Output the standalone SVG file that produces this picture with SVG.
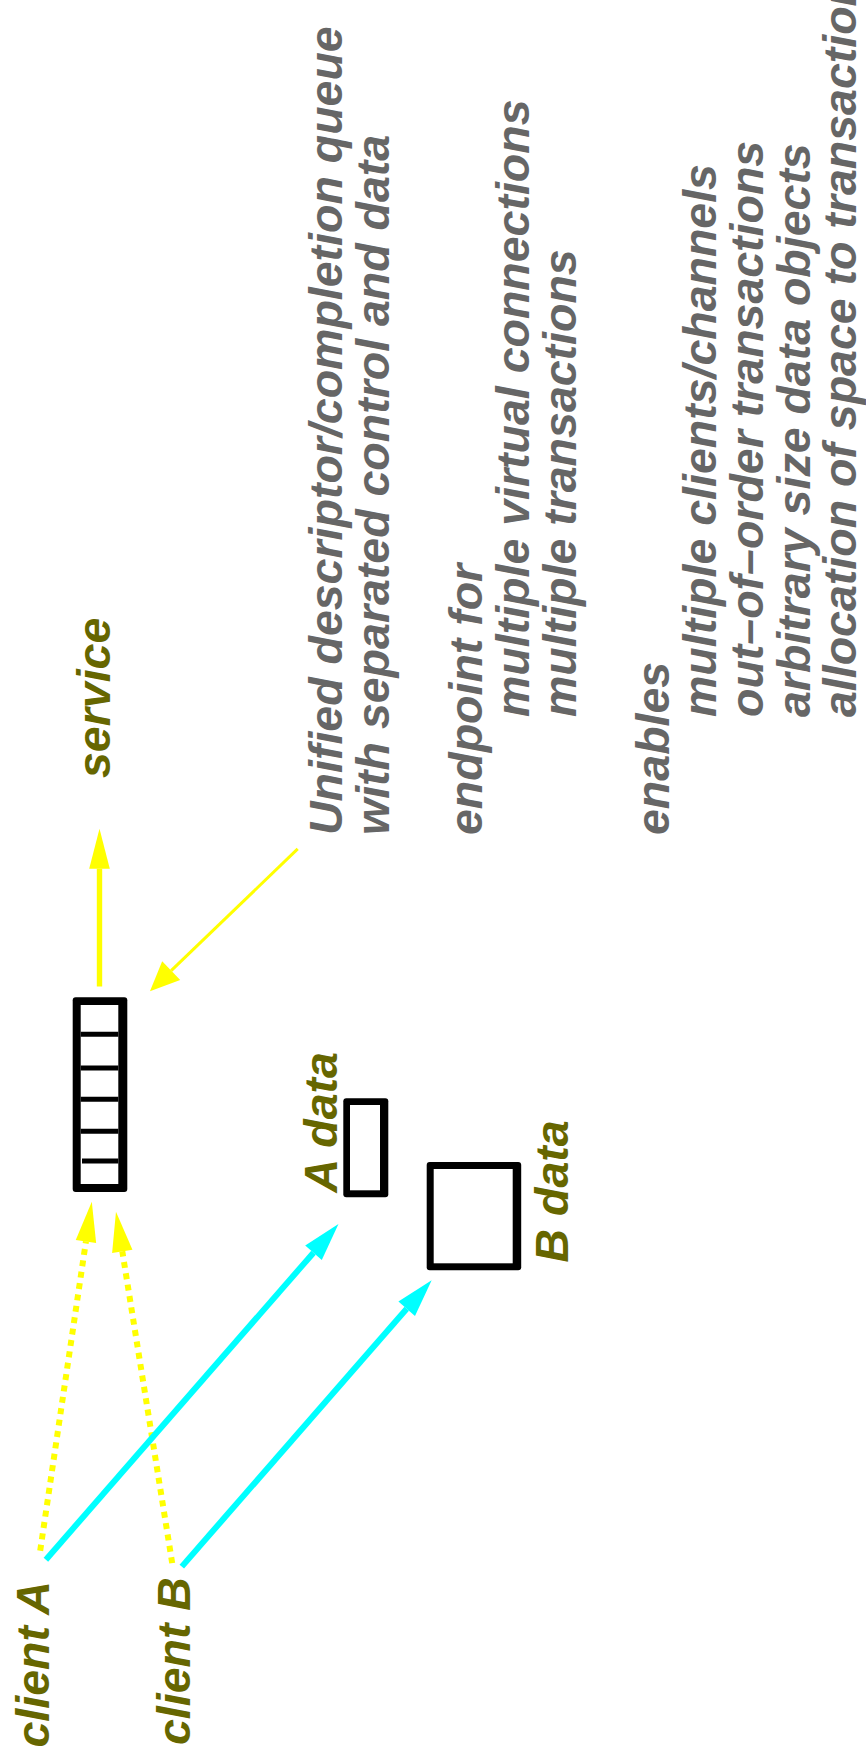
<svg xmlns="http://www.w3.org/2000/svg" width="866" height="1758" viewBox="0 0 866 1758">
<style>
.lbl{font-family:"Liberation Sans",Arial,sans-serif;font-weight:bold;font-style:italic;font-size:46.5px;fill:#666600}
.note{font-family:"Liberation Sans",Arial,sans-serif;font-weight:bold;font-style:italic;font-size:46.5px;fill:#666666}
.ctl{fill:none;stroke:#ffff00;stroke-width:6;stroke-dasharray:6 5.5}
.dat{fill:none;stroke:#00ffff;stroke-width:6}
.svc{fill:none;stroke:#ffff00;stroke-width:5.4}
.thin{fill:none;stroke:#ffff00;stroke-width:3}
.div{stroke:#000;stroke-width:5}
</style>
<defs>
<marker id="hy" markerUnits="userSpaceOnUse" markerWidth="42" markerHeight="24" refX="0" refY="10.3" orient="auto" overflow="visible">
<path d="M0,0 L40,10.3 L0,20.6 z" fill="#ffff00"/>
</marker>
<marker id="hyt" markerUnits="userSpaceOnUse" markerWidth="32" markerHeight="28" refX="0" refY="13" orient="auto" overflow="visible">
<path d="M0,0 L29.5,13 L0,26 z" fill="#ffff00"/>
</marker>
<marker id="hc" markerUnits="userSpaceOnUse" markerWidth="40" markerHeight="24" refX="0" refY="11" orient="auto" overflow="visible">
<path d="M0,0 L38,11 L0,22 z" fill="#00ffff"/>
</marker>
</defs>
<rect width="866" height="1758" fill="#ffffff"/>

<g id="connectors">
<line class="svc" x1="99.5" y1="986.5" x2="99.5" y2="868.7" marker-end="url(#hy)"/>
<line class="thin" x1="297.7" y1="848.9" x2="171.2" y2="970.7" marker-end="url(#hyt)"/>
<line class="ctl" x1="40.2" y1="1550.7" x2="85.95" y2="1241.4" marker-end="url(#hy)"/>
<line class="ctl" x1="172.2" y1="1563.1" x2="122.3" y2="1251.3" marker-end="url(#hy)"/>
<line class="dat" x1="45.9" y1="1559.7" x2="313.5" y2="1252.7" marker-end="url(#hc)"/>
<line class="dat" x1="181.8" y1="1566.6" x2="406.7" y2="1308.8" marker-end="url(#hc)"/>
</g>

<g id="queue">
<rect x="72.7" y="997.3" width="54.6" height="194.7" rx="3" fill="#000"/>
<rect x="80.7" y="1005" width="37.6" height="179" fill="#fff"/>
<line class="div" x1="80.7" y1="1034.2" x2="118.3" y2="1034.2"/>
<line class="div" x1="80.7" y1="1068" x2="118.3" y2="1068"/>
<line class="div" x1="80.7" y1="1099.3" x2="118.3" y2="1099.3"/>
<line class="div" x1="80.7" y1="1131.3" x2="118.3" y2="1131.3"/>
<line class="div" x1="82" y1="1161" x2="118.3" y2="1161"/>
</g>

<g id="a-data-box">
<rect x="343.3" y="1098.3" width="45" height="99" rx="3" fill="#000"/>
<rect x="350" y="1105" width="30" height="85.3" fill="#fff"/>
</g>

<g id="b-data-box">
<rect x="426.7" y="1162" width="94.5" height="108.3" rx="3" fill="#000"/>
<rect x="433.7" y="1169" width="79" height="94.3" fill="#fff"/>
</g>

<g transform="rotate(-90)">
<g id="service"><text class="lbl" x="-778" y="110">service</text></g>
<g id="client-a"><text class="lbl" x="-1747.5" y="48.6">client A</text></g>
<g id="client-b"><text class="lbl" x="-1745" y="190">client B</text></g>
<g id="a-data"><text class="lbl" x="-1192.5" y="337">A data</text></g>
<g id="b-data"><text class="lbl" x="-1262.5" y="568">B data</text></g>
<g id="note-queue">
<text class="note" x="-835" y="341.7">Unified descriptor/completion queue</text>
<text class="note" x="-835" y="388.5">with separated control and data</text>
</g>
<g id="note-endpoint">
<text class="note" x="-835" y="482">endpoint for</text>
<text class="note" x="-717" y="528.8">multiple virtual connections</text>
<text class="note" x="-717" y="575.6">multiple transactions</text>
</g>
<g id="note-enables">
<text class="note" x="-835" y="669.2">enables</text>
<text class="note" x="-717" y="716">multiple clients/channels</text>
<text class="note" x="-717" y="762.8">out–of–order transactions</text>
<text class="note" x="-717" y="809.6">arbitrary size data objects</text>
<text class="note" x="-717" y="856.4">allocation of space to transactions</text>
</g>
</g>
</svg>
